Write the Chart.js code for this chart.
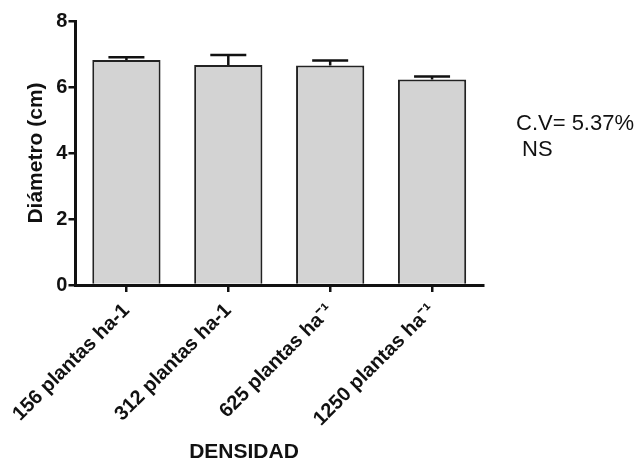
<!DOCTYPE html>
<html>
<head>
<meta charset="utf-8">
<script src="https://cdn.jsdelivr.net/npm/chart.js@4"></script>
<style>
  body { margin: 0; background: #fff; }
  #wrap { position: relative; width: 639px; height: 460px; }
  #cv { position: absolute; left: 516px; top: 110px; font: 22px "Liberation Sans", Arial, sans-serif; color: #111; line-height: 26px; }
  #xtitle { position: absolute; left: 144px; width: 200px; top: 439px; text-align: center; font: bold 21px "Liberation Sans", Arial, sans-serif; color: #111; line-height: 24px; }
</style>
</head>
<body>
<div id="wrap">
  <canvas id="myChart" width="639" height="460"></canvas>
  <div id="cv">C.V= 5.37%<br>&nbsp;NS</div>
  <div id="xtitle">DENSIDAD</div>
</div>
<script>
// data
const densidades = ["156 plantas ha-1", "312 plantas ha-1", "625 plantas ha\u207B\u00B9", "1250 plantas ha\u207B\u00B9"];
const diametro = [6.82, 6.67, 6.65, 6.23];
const errorSup = [0.08, 0.30, 0.15, 0.09];
const yTicks = [0, 2, 4, 6, 8];

const FONT = "Liberation Sans, Arial, sans-serif";

// draw the upper error bars on top of each bar
const errorBars = {
  id: "errorBars",
  afterDatasetsDraw(chart) {
    const ctx = chart.ctx;
    const y = chart.scales.y;
    const meta = chart.getDatasetMeta(0);
    ctx.save();
    ctx.strokeStyle = "#111";
    ctx.lineWidth = 2.5;
    meta.data.forEach((bar, i) => {
      const top = y.getPixelForValue(diametro[i] + errorSup[i]);
      ctx.beginPath();
      ctx.moveTo(bar.x, bar.y);
      ctx.lineTo(bar.x, top);
      ctx.moveTo(bar.x - 18, top);
      ctx.lineTo(bar.x + 18, top);
      ctx.stroke();
    });
    ctx.restore();
  }
};

const ctx = document.getElementById("myChart").getContext("2d");
new Chart(ctx, {
  type: "bar",
  data: {
    labels: densidades,
    datasets: [{
      data: diametro,
      backgroundColor: "#d3d3d3",
      borderColor: "#222",
      borderWidth: 2,
      barPercentage: 0.67,
      categoryPercentage: 1
    }]
  },
  options: {
    responsive: false,
    animation: false,
    layout: { padding: { top: 21, right: 156, left: 0, bottom: 0 } },
    plugins: { legend: { display: false }, tooltip: { enabled: false } },
    scales: {
      x: {
        afterFit: (scale) => { scale.height = 175; },
        grid: { display: true, drawOnChartArea: false, offset: false, tickLength: 7, color: "#111", lineWidth: 2.5 },
        border: { color: "#111", width: 3 },
        ticks: {
          color: "#111", padding: 7,
          maxRotation: 45, minRotation: 45,
          font: { family: FONT, size: 20, weight: "bold" }
        }
      },
      y: {
        min: 0, max: 8,
        afterFit: (scale) => { scale.width = 75; },
        afterBuildTicks: (scale) => { scale.ticks = yTicks.map(v => ({ value: v })); },
        grid: { display: true, drawOnChartArea: false, tickLength: 7, color: "#111", lineWidth: 2.5 },
        border: { color: "#111", width: 3 },
        ticks: {
          color: "#111", padding: 1,
          font: { family: FONT, size: 20, weight: "bold" }
        },
        title: {
          display: true, text: "Diámetro (cm)", color: "#111",
          font: { family: FONT, size: 21, weight: "bold" },
          padding: { top: 23, bottom: 0 }
        }
      }
    }
  },
  plugins: [errorBars]
});
</script>
</body>
</html>
